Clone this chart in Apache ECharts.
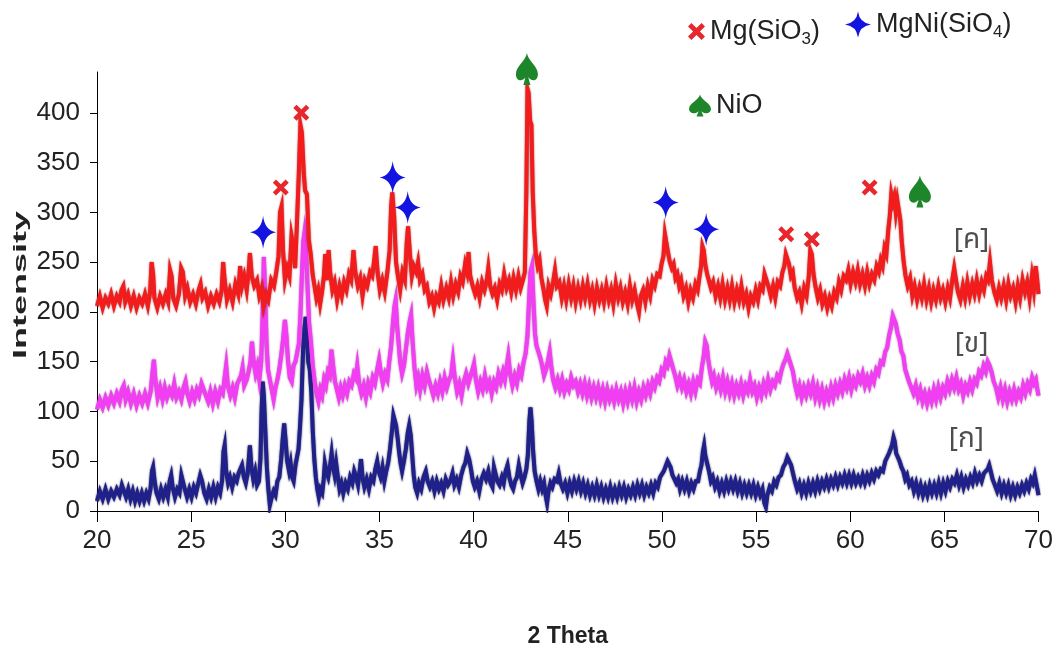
<!DOCTYPE html>
<html>
<head>
<meta charset="utf-8">
<script src="https://cdn.jsdelivr.net/npm/echarts@6/dist/echarts.min.js"></script>
<style>html,body{margin:0;padding:0;background:#fff}#c{width:1056px;height:657px}</style>
</head>
<body>
<div id="c"></div>
<script>
// ---- data: [2 theta, intensity] ----
const yTicks = [0, 50, 100, 150, 200, 250, 300, 350, 400];
const sampleLabels = [[66.44, 270, '[ค]'], [66.44, 165, '[ข]'], [66.17, 70, '[ก]']];

const redData = [[20.0,206],[20.15,216],[20.3,204],[20.45,214],[20.6,208],[20.75,218],[20.9,206],[21.05,216],[21.2,210],[21.3,222],[21.4,226],[21.5,210],[21.65,218],[21.8,206],[21.95,216],[22.1,204],[22.25,214],[22.4,208],[22.55,218],[22.7,206],[22.82,220],[22.9,250],[22.98,238],[23.05,214],[23.2,204],[23.35,216],[23.5,208],[23.65,218],[23.78,210],[23.88,242],[23.96,236],[24.05,214],[24.2,206],[24.35,218],[24.47,244],[24.56,240],[24.68,216],[24.8,224],[24.95,210],[25.1,218],[25.25,208],[25.4,222],[25.5,228],[25.6,214],[25.75,220],[25.9,206],[26.05,216],[26.2,208],[26.35,218],[26.5,210],[26.62,222],[26.7,250],[26.78,232],[26.9,212],[27.05,222],[27.2,210],[27.35,228],[27.5,218],[27.6,246],[27.7,226],[27.82,236],[27.95,222],[28.05,240],[28.12,259],[28.22,236],[28.35,226],[28.5,232],[28.62,216],[28.75,224],[28.85,206],[28.98,218],[29.1,212],[29.25,232],[29.4,226],[29.52,240],[29.64,256],[29.72,300],[29.8,306],[29.88,262],[29.98,232],[30.1,244],[30.22,236],[30.33,276],[30.42,266],[30.52,244],[30.62,290],[30.72,340],[30.8,388],[30.88,380],[30.98,340],[31.05,322],[31.15,318],[31.25,272],[31.35,258],[31.45,238],[31.55,226],[31.65,214],[31.75,222],[31.85,208],[31.95,220],[32.05,236],[32.12,258],[32.2,232],[32.3,262],[32.38,240],[32.5,222],[32.62,230],[32.75,212],[32.88,226],[33.0,216],[33.12,230],[33.25,222],[33.38,238],[33.5,232],[33.62,262],[33.72,240],[33.85,226],[33.98,234],[34.1,216],[34.22,232],[34.35,226],[34.5,240],[34.62,236],[34.72,252],[34.8,266],[34.9,240],[35.02,222],[35.15,232],[35.28,220],[35.42,240],[35.54,262],[35.62,306],[35.68,320],[35.78,296],[35.88,250],[35.98,236],[36.1,222],[36.22,240],[36.35,232],[36.45,270],[36.52,286],[36.62,258],[36.72,236],[36.82,246],[36.95,240],[37.05,250],[37.15,232],[37.28,238],[37.4,222],[37.52,226],[37.65,210],[37.78,216],[37.9,204],[38.02,216],[38.15,210],[38.28,226],[38.4,212],[38.55,224],[38.68,214],[38.8,230],[38.92,216],[39.05,228],[39.18,220],[39.3,236],[39.42,230],[39.55,248],[39.65,240],[39.73,260],[39.82,236],[39.95,226],[40.08,218],[40.2,226],[40.32,214],[40.45,230],[40.58,222],[40.7,232],[40.78,244],[40.88,226],[41.0,218],[41.12,224],[41.25,212],[41.38,228],[41.5,222],[41.62,238],[41.75,224],[41.88,232],[42.0,220],[42.12,234],[42.25,222],[42.38,236],[42.5,224],[42.62,232],[42.72,240],[42.8,320],[42.86,424],[42.92,420],[43.0,392],[43.07,388],[43.14,320],[43.22,282],[43.3,258],[43.4,246],[43.5,252],[43.6,234],[43.7,224],[43.8,212],[43.88,206],[43.98,226],[44.1,218],[44.22,230],[44.32,242],[44.42,226],[44.55,230],[44.68,214],[44.8,226],[44.92,212],[45.05,228],[45.18,214],[45.3,226],[45.42,210],[45.55,224],[45.68,212],[45.8,226],[45.92,214],[46.05,228],[46.18,212],[46.3,222],[46.42,208],[46.55,224],[46.68,212],[46.8,222],[46.92,210],[47.05,226],[47.18,212],[47.3,222],[47.42,208],[47.55,228],[47.68,214],[47.8,224],[47.92,210],[48.05,220],[48.18,208],[48.3,226],[48.42,212],[48.55,222],[48.68,208],[48.78,200],[48.88,216],[49.0,222],[49.12,210],[49.25,226],[49.38,216],[49.5,232],[49.62,226],[49.75,238],[49.88,236],[49.98,248],[50.08,256],[50.16,278],[50.24,280],[50.32,260],[50.42,250],[50.52,244],[50.62,248],[50.72,234],[50.82,238],[50.92,226],[51.02,232],[51.15,216],[51.28,224],[51.4,210],[51.52,222],[51.65,214],[51.78,228],[51.9,222],[52.0,236],[52.08,246],[52.15,266],[52.22,262],[52.3,248],[52.4,238],[52.5,240],[52.6,224],[52.72,230],[52.85,216],[52.98,226],[53.1,214],[53.22,228],[53.35,212],[53.48,224],[53.6,212],[53.72,226],[53.85,210],[53.98,222],[54.1,212],[54.22,226],[54.35,210],[54.48,218],[54.6,204],[54.72,216],[54.85,210],[54.98,222],[55.1,212],[55.22,226],[55.35,222],[55.45,238],[55.55,232],[55.65,226],[55.78,216],[55.9,226],[56.02,214],[56.15,230],[56.28,226],[56.4,240],[56.5,246],[56.58,258],[56.66,256],[56.75,248],[56.85,236],[56.95,240],[57.05,224],[57.18,214],[57.3,220],[57.42,208],[57.55,224],[57.68,216],[57.8,236],[57.88,262],[57.96,258],[58.05,238],[58.15,226],[58.28,214],[58.4,222],[58.52,208],[58.65,216],[58.78,204],[58.9,214],[59.02,206],[59.15,220],[59.28,214],[59.4,230],[59.52,222],[59.65,236],[59.78,232],[59.9,242],[60.02,228],[60.15,240],[60.28,230],[60.4,242],[60.52,228],[60.65,238],[60.78,226],[60.9,240],[61.02,228],[61.15,238],[61.28,232],[61.4,246],[61.52,240],[61.62,252],[61.72,246],[61.82,264],[61.92,258],[62.02,282],[62.1,296],[62.18,318],[62.26,310],[62.34,316],[62.42,300],[62.5,312],[62.58,314],[62.66,292],[62.74,270],[62.84,250],[62.94,236],[63.05,226],[63.18,234],[63.3,216],[63.42,226],[63.55,212],[63.68,224],[63.8,214],[63.92,228],[64.05,212],[64.18,224],[64.3,210],[64.42,222],[64.55,212],[64.68,226],[64.8,214],[64.92,222],[65.05,210],[65.18,224],[65.3,214],[65.42,232],[65.52,244],[65.6,234],[65.72,220],[65.85,212],[65.98,226],[66.1,214],[66.22,230],[66.35,216],[66.48,228],[66.6,218],[66.72,232],[66.85,218],[66.98,230],[67.1,222],[67.22,236],[67.32,232],[67.42,250],[67.52,232],[67.65,220],[67.78,212],[67.9,224],[68.02,214],[68.15,226],[68.28,212],[68.4,228],[68.52,216],[68.65,224],[68.78,210],[68.9,226],[69.02,214],[69.15,232],[69.28,220],[69.4,230],[69.52,214],[69.65,236],[69.75,222],[69.85,246],[69.93,232],[70.0,218]];

const magentaData = [[20.0,102],[20.15,112],[20.3,104],[20.45,114],[20.6,106],[20.75,116],[20.9,108],[21.05,118],[21.2,110],[21.32,122],[21.42,126],[21.52,112],[21.65,120],[21.8,108],[21.95,118],[22.1,106],[22.25,116],[22.4,108],[22.55,118],[22.7,108],[22.85,120],[22.95,140],[23.02,152],[23.1,132],[23.22,114],[23.35,124],[23.48,112],[23.6,124],[23.72,114],[23.85,122],[23.98,116],[24.1,128],[24.22,114],[24.35,120],[24.48,112],[24.6,124],[24.7,130],[24.8,118],[24.92,110],[25.05,120],[25.18,112],[25.3,122],[25.42,116],[25.55,128],[25.65,130],[25.78,116],[25.9,110],[26.02,120],[26.15,108],[26.28,120],[26.42,110],[26.55,122],[26.68,118],[26.78,134],[26.86,146],[26.95,126],[27.08,116],[27.2,124],[27.32,114],[27.45,128],[27.55,132],[27.65,136],[27.73,144],[27.82,126],[27.95,132],[28.05,140],[28.15,150],[28.23,170],[28.32,150],[28.42,138],[28.52,146],[28.62,132],[28.72,150],[28.8,200],[28.86,255],[28.93,220],[29.0,170],[29.08,142],[29.18,132],[29.28,122],[29.38,112],[29.48,124],[29.58,132],[29.68,142],[29.78,156],[29.88,172],[29.98,192],[30.06,176],[30.14,152],[30.24,134],[30.34,130],[30.44,146],[30.54,150],[30.64,160],[30.72,168],[30.8,196],[30.88,236],[30.95,270],[31.02,280],[31.1,262],[31.18,226],[31.26,190],[31.36,170],[31.46,146],[31.56,130],[31.66,118],[31.76,110],[31.86,122],[31.96,116],[32.06,132],[32.16,126],[32.26,140],[32.36,136],[32.45,162],[32.54,146],[32.64,130],[32.74,122],[32.84,114],[32.94,124],[33.05,116],[33.16,126],[33.28,118],[33.4,130],[33.52,126],[33.64,138],[33.74,134],[33.82,146],[33.92,128],[34.04,118],[34.16,126],[34.28,114],[34.4,128],[34.52,120],[34.64,134],[34.76,128],[34.88,142],[34.98,152],[35.08,138],[35.18,128],[35.3,138],[35.42,132],[35.52,150],[35.62,166],[35.72,190],[35.8,206],[35.86,212],[35.94,186],[36.02,168],[36.1,150],[36.2,138],[36.3,146],[36.4,162],[36.5,178],[36.6,190],[36.68,197],[36.76,170],[36.86,144],[36.96,126],[37.06,134],[37.16,122],[37.28,136],[37.4,126],[37.52,140],[37.62,132],[37.74,124],[37.86,116],[37.98,126],[38.1,118],[38.22,130],[38.34,120],[38.46,134],[38.58,124],[38.7,132],[38.8,136],[38.9,152],[39.0,134],[39.12,120],[39.24,128],[39.36,116],[39.48,130],[39.6,138],[39.72,128],[39.84,136],[39.94,142],[40.02,148],[40.12,132],[40.24,120],[40.36,130],[40.48,122],[40.6,136],[40.72,124],[40.84,130],[40.96,118],[41.08,130],[41.2,124],[41.32,138],[41.44,130],[41.56,140],[41.66,132],[41.76,146],[41.84,156],[41.94,138],[42.06,126],[42.18,136],[42.3,128],[42.42,142],[42.54,136],[42.66,150],[42.76,158],[42.86,176],[42.94,210],[43.02,240],[43.1,246],[43.18,210],[43.26,178],[43.34,166],[43.44,160],[43.54,154],[43.64,146],[43.74,136],[43.84,142],[43.94,150],[44.04,160],[44.12,146],[44.22,132],[44.34,124],[44.46,132],[44.58,122],[44.7,132],[44.82,120],[44.94,128],[45.06,122],[45.18,134],[45.3,126],[45.42,130],[45.54,120],[45.66,128],[45.78,118],[45.9,128],[46.02,116],[46.14,126],[46.26,114],[46.38,124],[46.5,114],[46.62,124],[46.74,112],[46.86,122],[46.98,110],[47.1,122],[47.22,112],[47.34,120],[47.46,110],[47.58,122],[47.7,112],[47.82,120],[47.94,108],[48.06,120],[48.18,110],[48.3,122],[48.42,112],[48.54,124],[48.66,110],[48.78,120],[48.9,112],[49.02,124],[49.14,116],[49.26,126],[49.38,118],[49.5,130],[49.62,124],[49.74,134],[49.86,130],[49.98,142],[50.1,138],[50.2,150],[50.3,146],[50.4,156],[50.48,158],[50.58,144],[50.7,136],[50.82,126],[50.94,134],[51.06,124],[51.18,132],[51.3,120],[51.42,128],[51.54,118],[51.66,130],[51.78,120],[51.9,132],[52.02,128],[52.12,144],[52.22,156],[52.3,170],[52.38,166],[52.46,152],[52.56,140],[52.66,130],[52.76,136],[52.88,124],[53.0,132],[53.12,122],[53.24,134],[53.36,120],[53.48,130],[53.6,118],[53.72,128],[53.84,116],[53.96,126],[54.08,118],[54.2,128],[54.32,116],[54.44,126],[54.56,120],[54.68,132],[54.8,120],[54.92,126],[55.04,114],[55.16,124],[55.28,116],[55.4,128],[55.52,120],[55.64,132],[55.76,122],[55.88,130],[56.0,126],[56.12,136],[56.24,132],[56.36,142],[56.46,148],[56.56,152],[56.66,158],[56.76,156],[56.86,146],[56.96,140],[57.06,128],[57.18,118],[57.3,126],[57.42,114],[57.54,124],[57.66,116],[57.78,126],[57.9,118],[58.02,128],[58.14,114],[58.26,124],[58.38,112],[58.5,122],[58.62,110],[58.74,120],[58.86,112],[58.98,124],[59.1,114],[59.22,126],[59.34,118],[59.46,128],[59.58,120],[59.7,132],[59.82,124],[59.94,134],[60.06,122],[60.18,132],[60.3,126],[60.42,136],[60.54,130],[60.66,138],[60.78,126],[60.9,134],[61.02,126],[61.14,136],[61.26,130],[61.38,142],[61.5,138],[61.62,150],[61.74,148],[61.86,160],[61.96,164],[62.06,176],[62.16,184],[62.26,196],[62.34,198],[62.42,188],[62.52,178],[62.62,172],[62.72,160],[62.82,156],[62.92,142],[63.02,140],[63.12,130],[63.24,124],[63.36,118],[63.48,126],[63.6,114],[63.72,122],[63.84,110],[63.96,118],[64.08,108],[64.2,118],[64.32,110],[64.44,122],[64.56,112],[64.68,124],[64.8,114],[64.92,124],[65.04,118],[65.16,130],[65.28,122],[65.4,132],[65.52,124],[65.64,134],[65.76,122],[65.88,128],[66.0,116],[66.12,126],[66.24,120],[66.36,130],[66.48,122],[66.6,132],[66.72,128],[66.84,140],[66.96,136],[67.08,146],[67.2,140],[67.3,150],[67.4,146],[67.5,140],[67.62,130],[67.74,124],[67.86,114],[67.98,124],[68.1,112],[68.22,122],[68.34,110],[68.46,120],[68.58,112],[68.7,122],[68.82,112],[68.94,120],[69.06,114],[69.18,126],[69.3,118],[69.42,128],[69.54,122],[69.66,134],[69.76,128],[69.86,132],[69.94,122],[70.0,116]];

const navyData = [[20.0,10],[20.15,20],[20.3,12],[20.45,22],[20.6,12],[20.75,20],[20.9,14],[21.05,22],[21.2,16],[21.32,26],[21.42,24],[21.54,14],[21.66,22],[21.78,12],[21.9,20],[22.02,10],[22.14,18],[22.26,10],[22.38,18],[22.5,10],[22.62,18],[22.74,12],[22.84,22],[22.92,40],[22.98,44],[23.06,30],[23.16,18],[23.28,12],[23.4,22],[23.52,14],[23.64,22],[23.76,14],[23.86,30],[23.94,36],[24.02,24],[24.14,14],[24.26,22],[24.38,18],[24.48,36],[24.56,38],[24.66,22],[24.78,14],[24.9,22],[25.02,14],[25.14,24],[25.26,18],[25.38,28],[25.48,36],[25.58,30],[25.7,18],[25.82,12],[25.94,22],[26.06,14],[26.18,24],[26.3,14],[26.42,24],[26.54,18],[26.64,30],[26.72,60],[26.78,66],[26.86,40],[26.96,28],[27.06,34],[27.18,24],[27.3,34],[27.42,30],[27.52,38],[27.62,36],[27.7,46],[27.8,34],[27.9,28],[28.0,38],[28.06,52],[28.12,66],[28.2,44],[28.3,32],[28.4,40],[28.5,26],[28.6,30],[28.68,52],[28.74,100],[28.8,130],[28.86,116],[28.94,80],[29.02,44],[29.1,22],[29.18,6],[29.28,14],[29.38,20],[29.48,16],[29.58,30],[29.68,34],[29.78,52],[29.86,72],[29.94,88],[30.02,70],[30.1,50],[30.2,40],[30.28,48],[30.36,34],[30.44,30],[30.54,46],[30.62,54],[30.7,62],[30.78,84],[30.86,112],[30.94,160],[31.02,184],[31.08,195],[31.14,178],[31.22,150],[31.3,142],[31.38,120],[31.46,80],[31.54,52],[31.62,34],[31.7,22],[31.78,14],[31.86,22],[31.96,18],[32.04,32],[32.1,48],[32.18,40],[32.28,34],[32.38,46],[32.46,58],[32.54,44],[32.62,36],[32.7,48],[32.78,36],[32.88,22],[32.98,28],[33.08,18],[33.2,28],[33.32,22],[33.44,34],[33.56,28],[33.66,40],[33.76,34],[33.86,26],[33.96,42],[34.02,52],[34.1,34],[34.2,24],[34.32,32],[34.44,22],[34.56,34],[34.68,30],[34.78,42],[34.88,50],[34.96,40],[35.06,34],[35.16,44],[35.26,30],[35.36,40],[35.46,48],[35.56,62],[35.66,80],[35.74,96],[35.8,98],[35.88,86],[35.96,74],[36.04,60],[36.12,48],[36.2,40],[36.3,50],[36.4,62],[36.5,78],[36.58,86],[36.66,76],[36.74,56],[36.82,36],[36.9,24],[37.0,18],[37.1,28],[37.22,22],[37.34,34],[37.46,40],[37.56,30],[37.68,24],[37.8,30],[37.92,20],[38.04,30],[38.16,22],[38.28,28],[38.4,20],[38.52,32],[38.64,26],[38.76,30],[38.88,38],[38.98,26],[39.1,32],[39.22,24],[39.34,36],[39.46,44],[39.56,48],[39.66,58],[39.76,52],[39.86,42],[39.96,30],[40.06,24],[40.18,30],[40.3,20],[40.42,32],[40.54,38],[40.66,32],[40.78,40],[40.9,28],[41.0,24],[41.08,44],[41.16,46],[41.26,30],[41.38,26],[41.5,34],[41.6,28],[41.7,40],[41.8,46],[41.9,34],[42.0,26],[42.1,22],[42.2,30],[42.3,34],[42.4,46],[42.5,36],[42.6,28],[42.7,34],[42.8,42],[42.88,56],[42.96,90],[43.02,104],[43.08,90],[43.16,60],[43.24,40],[43.34,30],[43.44,22],[43.54,30],[43.64,22],[43.74,28],[43.84,14],[43.9,8],[43.98,20],[44.08,28],[44.18,24],[44.3,32],[44.42,30],[44.52,38],[44.62,28],[44.74,22],[44.86,28],[44.98,18],[45.1,28],[45.22,20],[45.34,30],[45.46,22],[45.58,30],[45.7,20],[45.82,28],[45.94,18],[46.06,26],[46.18,16],[46.3,24],[46.42,16],[46.54,26],[46.66,16],[46.78,24],[46.9,14],[47.02,22],[47.14,14],[47.26,24],[47.38,14],[47.5,22],[47.62,14],[47.74,24],[47.86,16],[47.98,24],[48.1,14],[48.22,22],[48.34,16],[48.46,24],[48.58,16],[48.7,26],[48.82,18],[48.94,26],[49.06,16],[49.18,24],[49.3,18],[49.42,26],[49.54,18],[49.66,28],[49.78,24],[49.9,34],[50.0,32],[50.1,40],[50.2,42],[50.3,50],[50.38,48],[50.46,44],[50.56,36],[50.66,38],[50.76,28],[50.86,32],[50.96,22],[51.08,30],[51.2,22],[51.32,30],[51.44,20],[51.56,28],[51.68,22],[51.8,30],[51.92,30],[52.02,40],[52.1,46],[52.18,60],[52.24,66],[52.3,56],[52.4,48],[52.5,40],[52.6,30],[52.7,34],[52.82,24],[52.94,30],[53.06,20],[53.18,28],[53.3,20],[53.42,30],[53.54,22],[53.66,30],[53.78,22],[53.9,30],[54.02,20],[54.14,28],[54.26,18],[54.38,26],[54.5,18],[54.62,26],[54.74,18],[54.86,26],[54.98,16],[55.1,24],[55.22,16],[55.34,22],[55.44,8],[55.52,4],[55.6,16],[55.72,24],[55.84,20],[55.96,30],[56.08,26],[56.2,34],[56.32,36],[56.44,44],[56.56,48],[56.66,54],[56.76,56],[56.86,46],[56.96,38],[57.06,30],[57.18,22],[57.3,28],[57.42,18],[57.54,26],[57.66,18],[57.78,28],[57.9,20],[58.02,28],[58.14,20],[58.26,30],[58.38,22],[58.5,30],[58.62,24],[58.74,32],[58.86,24],[58.98,32],[59.1,26],[59.22,34],[59.34,26],[59.46,34],[59.58,28],[59.7,36],[59.82,28],[59.94,36],[60.06,28],[60.18,36],[60.3,28],[60.42,34],[60.54,28],[60.66,36],[60.78,28],[60.9,36],[61.02,30],[61.14,38],[61.26,32],[61.38,40],[61.5,36],[61.62,42],[61.74,40],[61.86,50],[61.96,54],[62.06,58],[62.14,60],[62.22,66],[62.3,74],[62.36,70],[62.44,58],[62.52,60],[62.62,50],[62.72,44],[62.82,40],[62.92,32],[63.02,36],[63.14,26],[63.26,30],[63.38,20],[63.5,28],[63.62,18],[63.74,26],[63.86,16],[63.98,24],[64.1,16],[64.22,26],[64.34,18],[64.46,26],[64.58,18],[64.7,28],[64.82,18],[64.94,28],[65.06,20],[65.18,30],[65.3,24],[65.42,32],[65.54,28],[65.66,36],[65.78,26],[65.9,34],[66.02,24],[66.14,32],[66.26,26],[66.38,34],[66.5,28],[66.62,38],[66.74,30],[66.86,36],[66.98,30],[67.1,38],[67.2,36],[67.3,42],[67.38,46],[67.46,40],[67.56,32],[67.68,26],[67.8,20],[67.92,28],[68.04,18],[68.16,26],[68.28,18],[68.4,26],[68.52,16],[68.64,24],[68.76,16],[68.88,24],[69.0,18],[69.12,26],[69.24,20],[69.36,28],[69.48,22],[69.6,32],[69.7,28],[69.8,36],[69.9,26],[70.0,16]];

// phase marker positions
const mgSiO3Marks = [[29.76, 325], [30.85, 400], [56.6, 278], [57.96, 273], [61.03, 325]];
const mgNiSiO4Marks = [[28.82, 280], [35.7, 335], [36.5, 305], [50.2, 310], [52.35, 283]];
const nioMarks = [[42.83, 444], [63.7, 321]];

// ---- styling ----
const SANS = '"Liberation Sans", Arial, sans-serif';
const CROSS = 'path://M0,2 L2,0 L5,3 L8,0 L10,2 L7,5 L10,8 L8,10 L5,7 L2,10 L0,8 L3,5 Z';
const STAR = 'path://M5,0 Q5.6,4.4 10,5 Q5.6,5.6 5,10 Q4.4,5.6 0,5 Q4.4,4.4 5,0 Z';
const SPADE = 'path://M50,0 C45,25 0,40 0,66 C0,86 26,92 44,76 L34,100 L66,100 L56,76 C74,92 100,86 100,66 C100,40 55,25 50,0 Z';

const chart = echarts.init(document.getElementById('c'), null, {renderer: 'canvas'});
const lineSeries = (name, data, color, shadow) => ({
  name, type: 'line', data, symbol: 'none', smooth: false, animation: false,
  lineStyle: {color, width: 4, join: 'miter', shadowColor: shadow, shadowBlur: 2}, z: 2
});
const markSeries = (name, data, symbol, size, color) => ({
  name, type: 'scatter', data, symbol, symbolSize: size, symbolKeepAspect: false,
  itemStyle: {color, opacity: 1}, clip: false, z: 5, animation: false
});
const legendRich = {
  a: {fontFamily: SANS, fontSize: 27, color: '#222', lineHeight: 34},
  s: {fontFamily: SANS, fontSize: 17, color: '#222', lineHeight: 34, padding: [16, 0, 0, 0]}
};
const legendText = {
  'Mg(SiO3)': '{a|Mg(SiO}{s|3}{a|)}',
  'MgNi(SiO4)': '{a|MgNi(SiO}{s|4}{a|)}',
  'NiO': '{a|NiO}'
};
const mkLegend = (name, left, top, w, h) => ({
  data: [name], left, top, orient: 'horizontal', itemWidth: w, itemHeight: h, itemGap: 0,
  selectedMode: false, formatter: n => legendText[n], padding: 0,
  textStyle: {rich: legendRich}
});

chart.setOption({
  animation: false,
  backgroundColor: '#fff',
  grid: {left: 97, right: 14, top: 72, bottom: 146, containLabel: false},
  legend: [
    mkLegend('Mg(SiO3)', 688, 15, 17, 17),
    mkLegend('MgNi(SiO4)', 845, 8, 26, 34),
    mkLegend('NiO', 689, 92, 22, 32)
  ],
  xAxis: {
    type: 'value', min: 20, max: 70, interval: 5,
    axisLine: {show: true, onZero: false, lineStyle: {color: '#000', width: 1}},
    axisTick: {show: true, inside: false, length: 11, lineStyle: {color: '#000'}},
    axisLabel: {fontFamily: SANS, fontSize: 26, color: '#222', margin: 17},
    splitLine: {show: false},
    name: '2 Theta', nameLocation: 'middle', nameGap: 114,
    nameTextStyle: {fontFamily: SANS, fontSize: 23, fontWeight: 'bold', color: '#222'}
  },
  yAxis: {
    type: 'value', min: 0, max: 441,
    axisLine: {show: true, lineStyle: {color: '#000', width: 1}},
    axisTick: {show: true, inside: false, length: 7, customValues: yTicks, lineStyle: {color: '#000'}},
    axisLabel: {fontFamily: SANS, fontSize: 26, color: '#222', margin: 17, customValues: yTicks},
    splitLine: {show: false}
  },
  graphic: [{
    type: 'text', x: 21, y: 285, rotation: Math.PI / 2, scaleX: 2.0, scaleY: 1,
    style: {text: 'Intensity', font: 'bold 18px "Liberation Sans", Arial, sans-serif', fill: '#222',
            align: 'center', verticalAlign: 'middle'}
  }],
  series: [
    lineSeries('ก', navyData, '#20208a', 'rgba(10,10,50,0.8)'),
    lineSeries('ข', magentaData, '#f23ef2', 'rgba(120,0,120,0.7)'),
    lineSeries('ค', redData, '#f21c1c', 'rgba(120,0,0,0.7)'),
    markSeries('Mg(SiO3)', mgSiO3Marks, CROSS, [16, 16], '#e8262b'),
    markSeries('MgNi(SiO4)', mgNiSiO4Marks, STAR, [26, 33], '#1414e0'),
    markSeries('NiO', nioMarks, SPADE, [22, 32], '#1e862a'),
    {
      name: 'labels', type: 'scatter', data: sampleLabels, symbolSize: 1,
      itemStyle: {color: 'rgba(0,0,0,0)'}, z: 6, animation: false,
      label: {show: true, position: 'inside', formatter: p => p.value[2],
              fontFamily: '"Noto Sans Thai", "Loma", "Garuda", ' + SANS, fontSize: 28, color: '#222'}
    }
  ]
});
</script>
</body>
</html>
